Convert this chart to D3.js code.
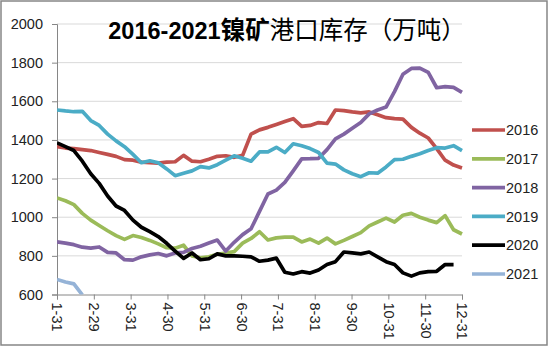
<!DOCTYPE html>
<html><head><meta charset="utf-8">
<script src="https://cdn.jsdelivr.net/npm/d3@7"></script>
<style>body{margin:0;background:#fff}svg{display:block}</style>
</head><body>
<svg id="c" width="550" height="346"></svg>
<script>
const monthLabels = ["1-31","2-29","3-31","4-30","5-31","6-30","7-31","8-31","9-30","10-31","11-30","12-31"];
const yTicks = [600,800,1000,1200,1400,1600,1800,2000];
const seriesNames = ["2016","2017","2018","2019","2020","2021"];
const colors = ["#C0504D","#9BBB59","#8064A2","#4BACC6","#000000","#95B3D7"];

const s2016 = [1365,1358,1355,1350,1345,1335,1325,1315,1298,1295,1285,1283,1280,1285,1287,1320,1290,1287,1300,1315,1318,1310,1320,1430,1452,1465,1480,1495,1510,1470,1475,1490,1485,1555,1552,1545,1540,1545,1530,1515,1510,1508,1465,1435,1410,1355,1295,1270,1255];
const s2017 = [1100,1085,1065,1020,985,957,930,905,885,905,895,880,862,842,840,855,800,790,795,808,815,822,866,890,925,882,893,897,897,872,887,866,892,862,880,900,920,955,975,995,975,1010,1020,1000,985,972,1008,935,913];
const s2018 = [872,866,858,845,840,846,818,815,780,778,795,805,812,800,815,818,838,850,866,882,825,870,910,940,1030,1120,1140,1180,1240,1302,1303,1305,1350,1405,1430,1460,1490,1535,1555,1570,1650,1740,1770,1772,1750,1670,1676,1672,1646];
const s2019 = [1555,1550,1546,1548,1500,1475,1430,1395,1365,1325,1282,1292,1282,1250,1215,1228,1240,1262,1255,1272,1295,1318,1305,1290,1338,1338,1362,1335,1380,1370,1355,1335,1280,1275,1245,1225,1210,1230,1228,1260,1298,1300,1315,1328,1345,1360,1358,1370,1345];
const s2020 = [1385,1365,1345,1290,1225,1175,1110,1058,1035,985,948,925,900,865,825,787,815,780,785,810,800,800,798,795,772,778,788,715,706,718,711,727,755,770,820,815,810,820,795,770,755,712,695,712,718,720,755,755];
const s2021 = [678,665,655,598];
const allSeries = [s2016,s2017,s2018,s2019,s2020,s2021];

const svg = d3.select("#c");
const L = 57, R = 462, T = 24, B = 294.5;
const x = d3.scaleLinear().domain([0,48]).range([L,R]);
const xm = d3.scaleLinear().domain([0,11]).range([L,R]);
const y = d3.scaleLinear().domain([600,2000]).range([B,T]);

svg.append("rect").attr("x",1).attr("y",1).attr("width",546).attr("height",344)
  .attr("fill","#fff").attr("stroke","#868686").attr("stroke-width",1.5);

// grid
svg.append("g").selectAll("line").data(yTicks.filter(d=>d>600)).join("line")
  .attr("x1",L).attr("x2",R).attr("y1",d=>y(d)).attr("y2",d=>y(d))
  .attr("stroke","#D9D9D9").attr("stroke-width",1);

// y axis
const ya = svg.append("g").attr("transform",`translate(${L},0)`)
  .call(d3.axisLeft(y).tickValues(yTicks).tickSize(5).tickPadding(9).tickFormat(d3.format("d")));
ya.select(".domain").attr("stroke","#868686");
ya.selectAll(".tick line").attr("stroke","#868686");
ya.selectAll("text").attr("font-family","Liberation Sans, Arial, sans-serif").attr("font-size","14.5px").attr("fill","#222");

// x axis
const xa = svg.append("g").attr("transform",`translate(0,${B})`)
  .call(d3.axisBottom(xm).tickValues(d3.range(12)).tickSize(5).tickFormat(i=>monthLabels[i]));
xa.select(".domain").attr("stroke","#868686");
xa.selectAll(".tick line").attr("stroke","#868686");
xa.selectAll("text").attr("font-family","Liberation Sans, Arial, sans-serif").attr("font-size","14.5px").attr("fill","#222")
  .attr("transform","translate(0,8) rotate(90)").attr("text-anchor","start").attr("x",0).attr("y",0).attr("dy","0.35em");

// clip
svg.append("clipPath").attr("id","clip").append("rect").attr("x",L).attr("y",T-5).attr("width",R-L+5).attr("height",B-T+5);

const line = d3.line().x((d,i)=>x(i)).y(d=>y(d));
const g = svg.append("g").attr("clip-path","url(#clip)");
allSeries.forEach((s,k)=>{
  g.append("path").datum(s).attr("d",line).attr("fill","none")
   .attr("stroke",colors[k]).attr("stroke-width",3.7).attr("stroke-linejoin","round").attr("stroke-linecap","butt");
});

// legend
const lg = svg.append("g");
seriesNames.forEach((n,k)=>{
  const yy = 130 + k*28.8;
  lg.append("line").attr("x1",472).attr("x2",505).attr("y1",yy).attr("y2",yy).attr("stroke",colors[k]).attr("stroke-width",3.7);
  lg.append("text").attr("x",506).attr("y",yy).attr("dy","0.36em").text(n)
    .attr("font-family","Liberation Sans, Arial, sans-serif").attr("font-size","14.5px").attr("fill","#222");
});

// title
const t = svg.append("text").attr("x",287).attr("y",39).attr("text-anchor","middle")
  .attr("font-family","Liberation Sans, 'Noto Sans CJK SC', sans-serif").attr("fill","#000");
t.append("tspan").text("2016-2021").attr("font-weight","bold").attr("font-size","23.5px");
t.append("tspan").text("镍矿").attr("font-weight","bold").attr("font-size","24.5px").attr("font-family","'Noto Sans CJK SC', sans-serif");
t.append("tspan").text("港口库存（万吨）").attr("font-size","24.5px").attr("font-family","'Noto Sans CJK SC', sans-serif");
</script>
</body></html>
